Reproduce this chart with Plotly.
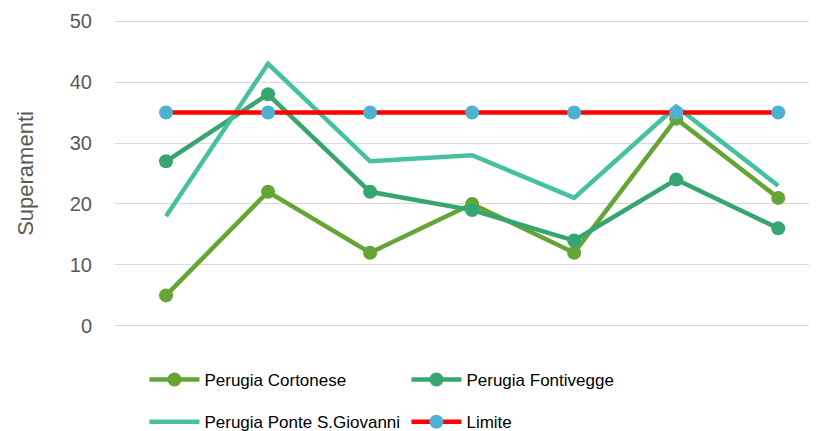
import plotly.graph_objects as go

categories = ["1", "2", "3", "4", "5", "6", "7"]
cortonese = [5, 22, 12, 20, 12, 34, 21]
fontivegge = [27, 38, 22, 19, 14, 24, 16]
ponte = [18, 43, 27, 28, 21, 36, 23]
limite = [35, 35, 35, 35, 35, 35, 35]

FONT = "Liberation Sans, Arial, sans-serif"

fig = go.Figure()
fig.add_trace(go.Scatter(x=categories, y=cortonese, name="Perugia Cortonese",
                         mode="lines+markers", legend="legend",
                         line=dict(color="#65A535", width=4.5),
                         marker=dict(color="#65A535", size=14)))
fig.add_trace(go.Scatter(x=categories, y=fontivegge, name="Perugia Fontivegge",
                         mode="lines+markers", legend="legend",
                         line=dict(color="#37A570", width=4.5),
                         marker=dict(color="#37A570", size=14)))
fig.add_trace(go.Scatter(x=categories, y=ponte, name="Perugia Ponte S.Giovanni",
                         mode="lines", legend="legend2",
                         line=dict(color="#45C1A1", width=4.5)))
fig.add_trace(go.Scatter(x=categories, y=limite, name="Limite",
                         mode="lines+markers", legend="legend2",
                         line=dict(color="#FF0000", width=4.5),
                         marker=dict(color="#4FB0CF", size=14)))

legend_common = dict(orientation="h", xanchor="left", yanchor="middle",
                     xref="container", yref="container",
                     entrywidth=197, entrywidthmode="pixels",
                     font=dict(size=17, color="#000000", family=FONT),
                     itemwidth=50, bgcolor="rgba(0,0,0,0)")

fig.update_layout(
    width=817, height=431,
    margin=dict(l=107, r=8, t=11, b=111, autoexpand=False),
    plot_bgcolor="white", paper_bgcolor="white",
    font=dict(family=FONT, color="#595959"),
    showlegend=True,
    legend=dict(x=0.167, y=0.137, **legend_common),
    legend2=dict(x=0.167, y=0.039, **legend_common),
    xaxis=dict(type="category", range=[-0.5, 6.38], showticklabels=False,
               showgrid=False, zeroline=False, showline=False, ticks=""),
    yaxis=dict(range=[-0.35, 50.35], tickvals=[0, 10, 20, 30, 40, 50],
               showgrid=True, gridcolor="#D9D9D9", gridwidth=1.3,
               zeroline=False, showline=False, ticks="",
               ticklabelstandoff=22,
               tickfont=dict(size=20, color="#595959"),
               title=dict(text="Superamenti", font=dict(size=22, color="#595959"),
                          standoff=30)),
)

fig.write_html("out.html")
